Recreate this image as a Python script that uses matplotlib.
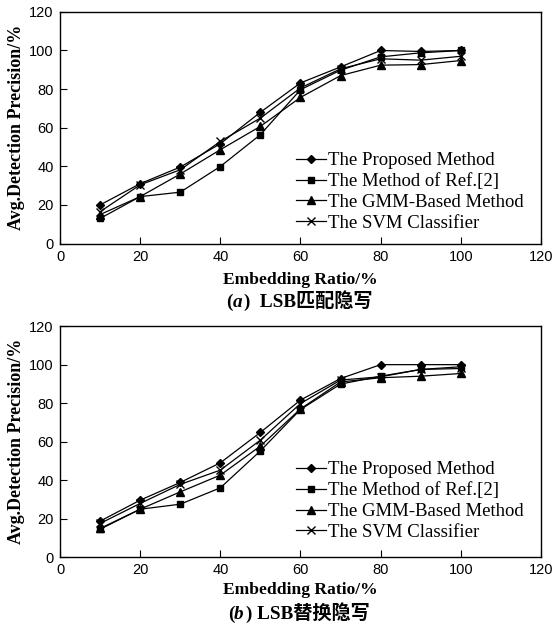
import matplotlib
matplotlib.use("Agg")
import matplotlib.pyplot as plt

ratios = [10, 20, 30, 40, 50, 60, 70, 80, 90, 100]
series_names = ["The Proposed Method", "The Method of Ref.[2]",
                "The GMM-Based Method", "The SVM Classifier"]
markers = ["D", "s", "^", "x"]

# (a) LSB matching
a_proposed = [20, 31, 39.6, 51.7, 68, 83.2, 91.5, 100, 99.5, 100]
a_ref2 = [13, 24.3, 26.6, 39.9, 56.4, 79.7, 89.8, 96.7, 98.8, 100]
a_gmm = [15, 24.3, 36, 48.6, 60.7, 75.7, 87, 92.4, 92.7, 94.8]
a_svm = [16.5, 30.4, 38.2, 52.9, 65, 80.6, 90.5, 95.7, 95, 97]

# (b) LSB replacement
b_proposed = [18.7, 29.6, 38.8, 49, 64.8, 81.6, 92.8, 100, 100, 100]
b_ref2 = [14.5, 24.9, 27.5, 36, 55.2, 76.7, 89.9, 94, 97.5, 98.9]
b_gmm = [14.9, 24.9, 33.9, 42.6, 57.7, 77, 91, 93.2, 94, 95.4]
b_svm = [17.5, 27.9, 37.8, 45.2, 60.8, 79.8, 92, 93.7, 97.5, 98]

xticks = [0, 20, 40, 60, 80, 100, 120]
yticks = [0, 20, 40, 60, 80, 100, 120]
xlabel = "Embedding Ratio/%"
ylabel = "Avg.Detection Precision/%"
captions = [("(", "a", ")  LSB匹配隐写"), ("(", "b", ") LSB替换隐写")]

serif = ["Liberation Serif", "Noto Sans CJK SC", "DejaVu Serif"]
sans = ["Liberation Sans", "DejaVu Sans"]

fig = plt.figure(figsize=(5.52, 6.26), dpi=100)
axes_rects = [[0.1087, 0.611, 0.8713, 0.370], [0.1087, 0.110, 0.8713, 0.369]]
data_sets = [[a_proposed, a_ref2, a_gmm, a_svm], [b_proposed, b_ref2, b_gmm, b_svm]]
legend_anchor = [(0.49, 0.05), (0.49, 0.07)]
xlabel_y = [-0.122, -0.108]
caption_y = [-0.272, -0.266]
caption_x = [0.345, 0.349]

fig.canvas.draw()
r = fig.canvas.get_renderer()

for i, rect in enumerate(axes_rects):
    ax = fig.add_axes(rect)
    for vals, name, mk in zip(data_sets[i], series_names, markers):
        ms = {"D": 4.5, "s": 5, "^": 5.5, "x": 6}[mk]
        ax.plot(ratios, vals, color="black", lw=0.9, marker=mk, ms=ms,
                mew=1.0, label=name)
    ax.set_xlim(0, 120)
    ax.set_ylim(0, 120)
    ax.set_xticks(xticks)
    ax.set_yticks(yticks)
    ax.tick_params(direction="in", length=5, width=0.8, labelsize=10.5, pad=4.5)
    for lab in ax.get_xticklabels() + ax.get_yticklabels():
        lab.set_family(sans)
    for sp in ax.spines.values():
        sp.set_linewidth(1.0)
    ax.set_xlabel(xlabel, family=serif, fontsize=12.6, fontweight="bold")
    ax.xaxis.set_label_coords(0.5, xlabel_y[i])
    ax.set_ylabel(ylabel, family=serif, fontsize=13, fontweight="bold", labelpad=3)
    ax.legend(loc="lower left", bbox_to_anchor=legend_anchor[i],
              frameon=False, prop={"family": serif, "size": 13.5},
              handlelength=1.6, handletextpad=0.15, labelspacing=0.2,
              borderaxespad=0, borderpad=0)
    c = captions[i]
    t1 = ax.text(caption_x[i], caption_y[i], c[0], transform=ax.transAxes,
                 ha="left", va="baseline", fontsize=13.8, family=serif,
                 fontweight="bold")
    bb = t1.get_window_extent(r).transformed(ax.transAxes.inverted())
    t2 = ax.text(bb.x1, caption_y[i], c[1], transform=ax.transAxes, ha="left",
                 va="baseline", fontsize=13.8, family=serif, fontweight="bold",
                 style="italic")
    bb2 = t2.get_window_extent(r).transformed(ax.transAxes.inverted())
    ax.text(bb2.x1 + 0.004, caption_y[i], c[2], transform=ax.transAxes, ha="left",
            va="baseline", fontsize=13.8, family=serif, fontweight="bold")

fig.savefig("out.png", dpi=100)
